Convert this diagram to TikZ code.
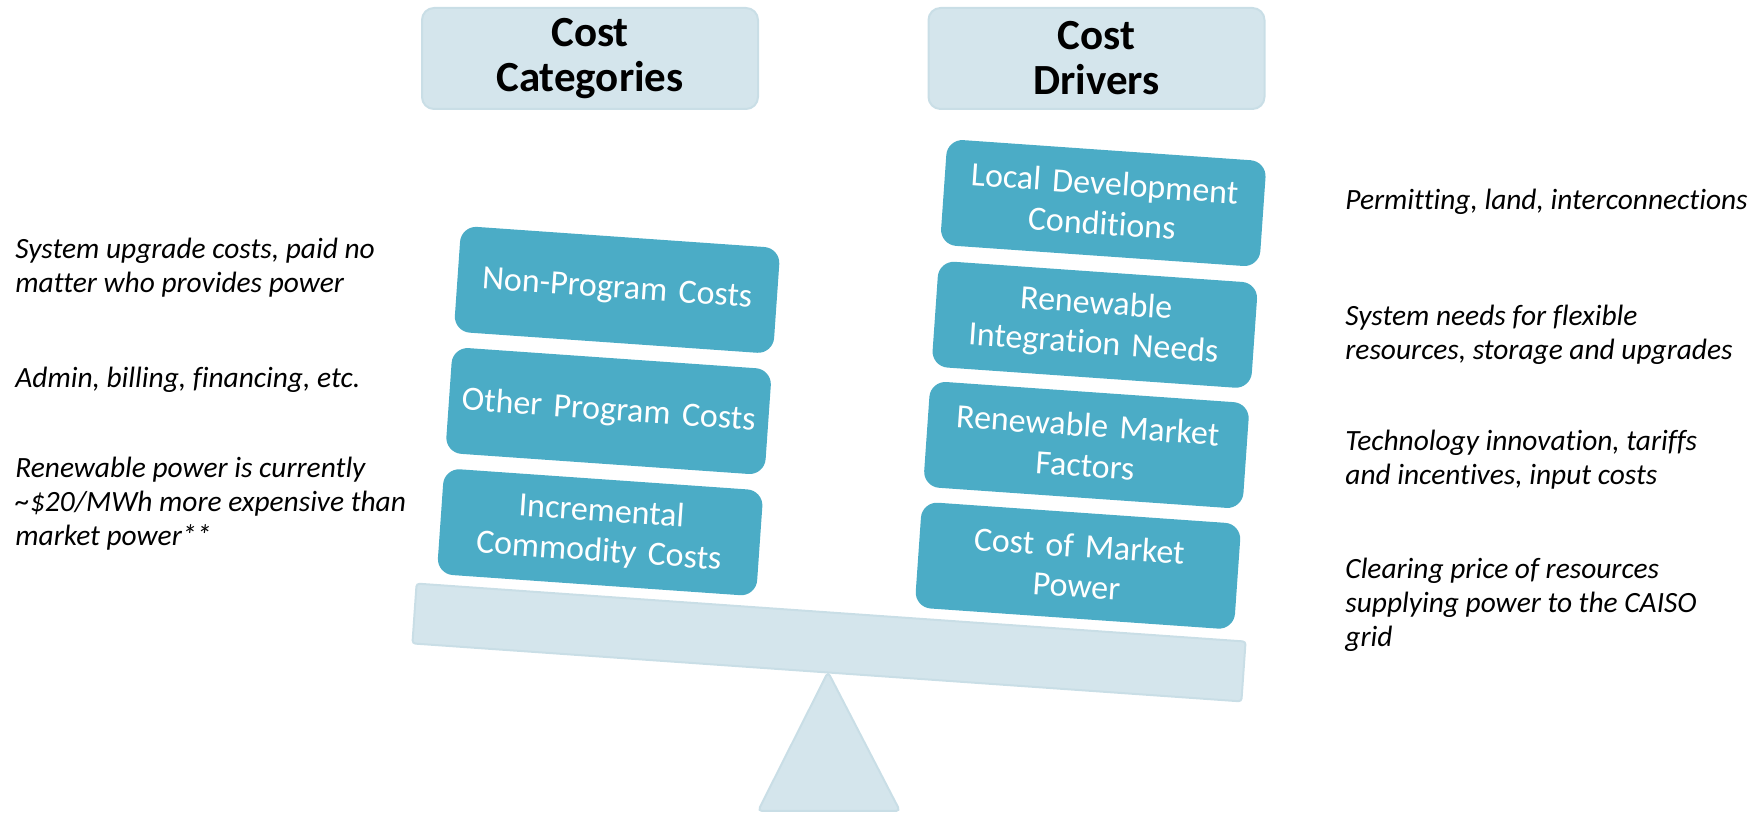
\documentclass[tikz,border=0pt]{standalone}
\usepackage{fontspec}
\setmainfont{Carlito}[Ligatures=NoCommon]
\usetikzlibrary{positioning}
\definecolor{boxblue}{HTML}{4BACC6}
\definecolor{paleblue}{HTML}{D4E5EC}
\definecolor{paleedge}{HTML}{C9DEE6}
\tikzset{
  costbox/.style={fill=boxblue, rounded corners=8pt, minimum width=160pt, minimum height=53pt,
    text width=152pt, align=center, text=white, inner sep=0pt, font=\fontsize{17}{20}\selectfont},
  headbox/.style={fill=paleblue, draw=paleedge, line width=1pt, rounded corners=6pt,
    minimum width=168pt, minimum height=50.5pt, align=center, font=\bfseries\fontsize{21.5}{22.5}\selectfont},
  note/.style={anchor=base west, align=left, inner sep=0pt, font=\itshape\fontsize{14.7}{17}\selectfont}
}

\begin{document}
\begin{tikzpicture}[x=0.5pt,y=0.5pt]
\useasboundingbox (0,0) rectangle (1763,813);
% headings
\node[headbox] (cat) at (590,754.5) {Cost\\Categories};
\node[headbox] (drv) at (1096.5,754.5) {Cost\\Drivers};
% fulcrum
\draw[fill=paleblue, draw=paleedge, line width=1pt, rounded corners=2pt] (828,141) -- (900,2) -- (758,2) -- cycle;
% beam and the two stacks
\begin{scope}[shift={(829,170.5)}, rotate=-4, transform shape]
\node[fill=paleblue, draw=paleedge, line width=1pt, rounded corners=1.5pt,
  minimum width=415.5pt, minimum height=30pt] (beam) at (0,0) {};
\node[costbox] (incr) at (-236,94) {Incremental\\Commodity Costs};
\node[costbox] (other) at (-236,215.5) {Other Program Costs};
\node[costbox] (nonprog) at (-236,337) {Non-Program Costs};
\node[costbox] (mkt) at (243,94) {Cost of Market\\Power};
\node[costbox] (fact) at (243,215) {Renewable Market\\Factors};
\node[costbox] (integ) at (243,335.5) {Renewable\\Integration Needs};
\node[costbox] (local) at (243,457.5) {Local Development\\Conditions};
\end{scope}
% notes on the left (placed by their last line)
\node[note] (nnon) at (15,520) {System upgrade costs, paid no\\matter who provides power};
\node[note] (noth) at (15,425) {Admin, billing, financing, etc.};
\node[note] (ninc) at (15,267) {Renewable power is currently\\\textasciitilde\$20/MWh more expensive than\\market power**};
% notes on the right
\node[note] (nloc) at (1345,603) {Permitting, land, interconnections};
\node[note] (nint) at (1345,453) {System needs for flexible\\resources, storage and upgrades};
\node[note] (nfac) at (1345,328) {Technology innovation, tariffs\\and incentives, input costs};
\node[note] (nmkt) at (1345,166) {Clearing price of resources\\supplying power to the CAISO\\grid};
\end{tikzpicture}
\end{document}
